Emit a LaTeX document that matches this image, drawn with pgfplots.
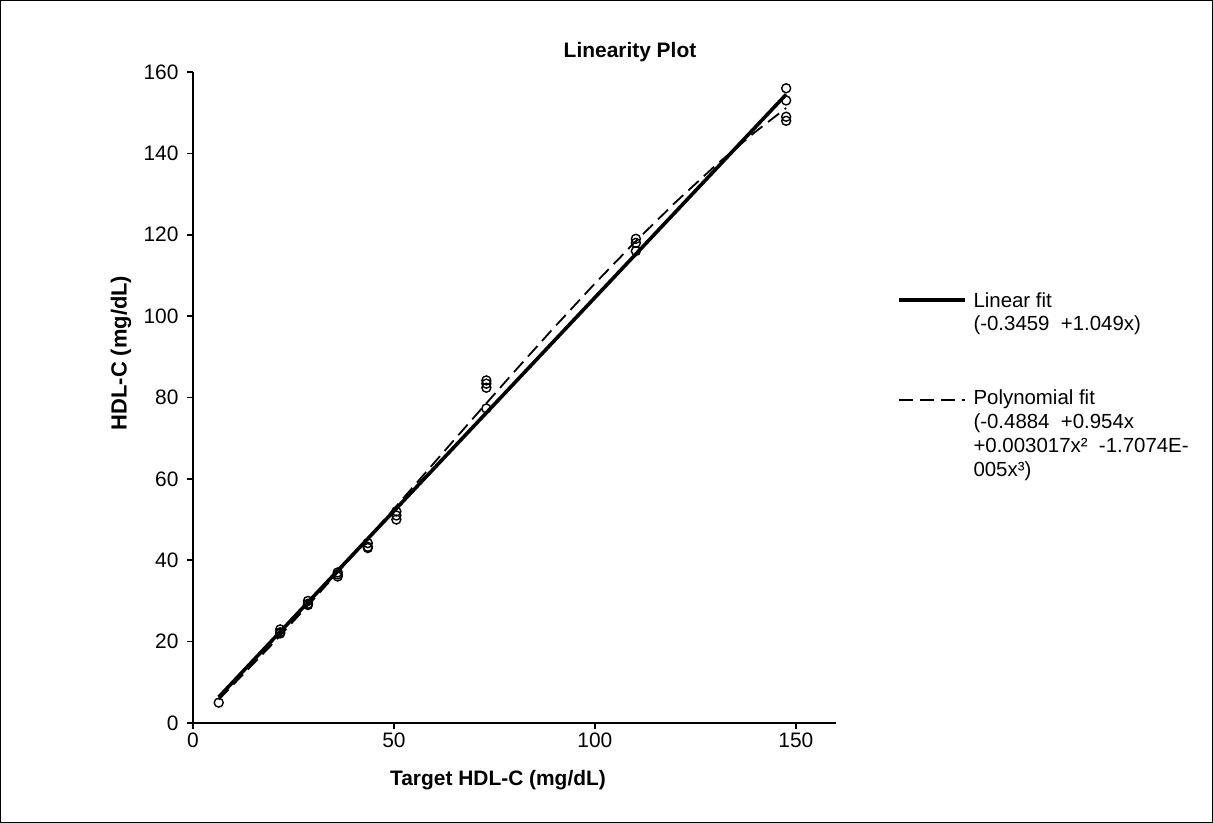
\documentclass[border=0pt]{standalone}
\usepackage{pgfplots}
\pgfplotsset{compat=1.18}
\usepackage{fontspec}
\setmainfont{Liberation Sans}
\begin{document}
\begin{tikzpicture}[x=1bp,y=1bp]
\draw[line width=1.2bp] (0.6,0.6) rectangle (1212.4,822.4);
\begin{axis}[
  at={(193bp,100bp)}, anchor=south west,
  scale only axis, width=643bp, height=651bp,
  xmin=0, xmax=160, ymin=0, ymax=160,
  axis lines*=left,
  axis line style={line width=1.6bp, black},
  tick align=outside, major tick length=6bp,
  tick style={line width=1.6bp, black},
  xtick={0,50,100,150}, ytick={0,20,...,160},
  ticklabel style={font=\fontsize{21}{24}\selectfont},
  yticklabel style={xshift=-5bp},
  /pgf/number format/assume math mode=true,
  clip=false,
]
\addplot[line width=3.6bp, black] coordinates {(6.4,6.37) (147.6,154.49)};
\addplot[line width=1.8bp, black, dash pattern=on 14bp off 7bp] coordinates {
(6.4,5.74) (20,19.66) (30,30.39) (40,41.41) (50,52.62) (60,63.93) (70,75.22)
(80,86.40) (90,97.36) (100,108.01) (110,118.23) (120,127.93) (130,137.01)
(140,145.35) (147.6,151.15)};
\addplot[only marks, mark=o, mark size=4.5bp, mark options={line width=1.4bp, black, fill=white}] coordinates {
(6.4,5)
(21.7,23) (21.7,22.3) (21.7,22)
(28.6,30) (28.6,29.3) (28.6,29)
(36,37) (36,36.5) (36,36)
(43.5,44.2) (43.5,43.3) (43.5,43)
(50.6,52) (50.6,51) (50.6,50)
(73,84.2) (73,83.4) (73,82.4) (73,77.3)
(110.2,119) (110.2,118) (110.2,116)
(147.6,156) (147.6,153) (147.6,149) (147.6,148)};
\end{axis}
\node[font=\bfseries\fontsize{21}{24}\selectfont] at (630,771) {Linearity Plot};
\node[font=\bfseries\fontsize{22}{25}\selectfont, rotate=90] at (121,470) {HDL-C (mg/dL)};
\node[font=\bfseries\fontsize{21}{24}\selectfont] at (498,43) {Target HDL-C (mg/dL)};
% legend
\draw[line width=3.6bp] (899,523) -- (965,523);
\node[anchor=west, font=\fontsize{20.5}{23}\selectfont] at (970,523) {Linear fit};
\node[anchor=west, font=\fontsize{20.5}{23}\selectfont] at (970,498) {(-0.3459\ \ +1.049x)};
\draw[line width=1.8bp, dash pattern=on 14bp off 7bp] (899,423) -- (965,423);
\node[anchor=north west, align=left, font=\fontsize{20.5}{24}\selectfont] at (970,437) {Polynomial fit\\(-0.4884\ \ +0.954x\\+0.003017x²\ \ -1.7074E-\\005x³)};
\end{tikzpicture}
\end{document}
